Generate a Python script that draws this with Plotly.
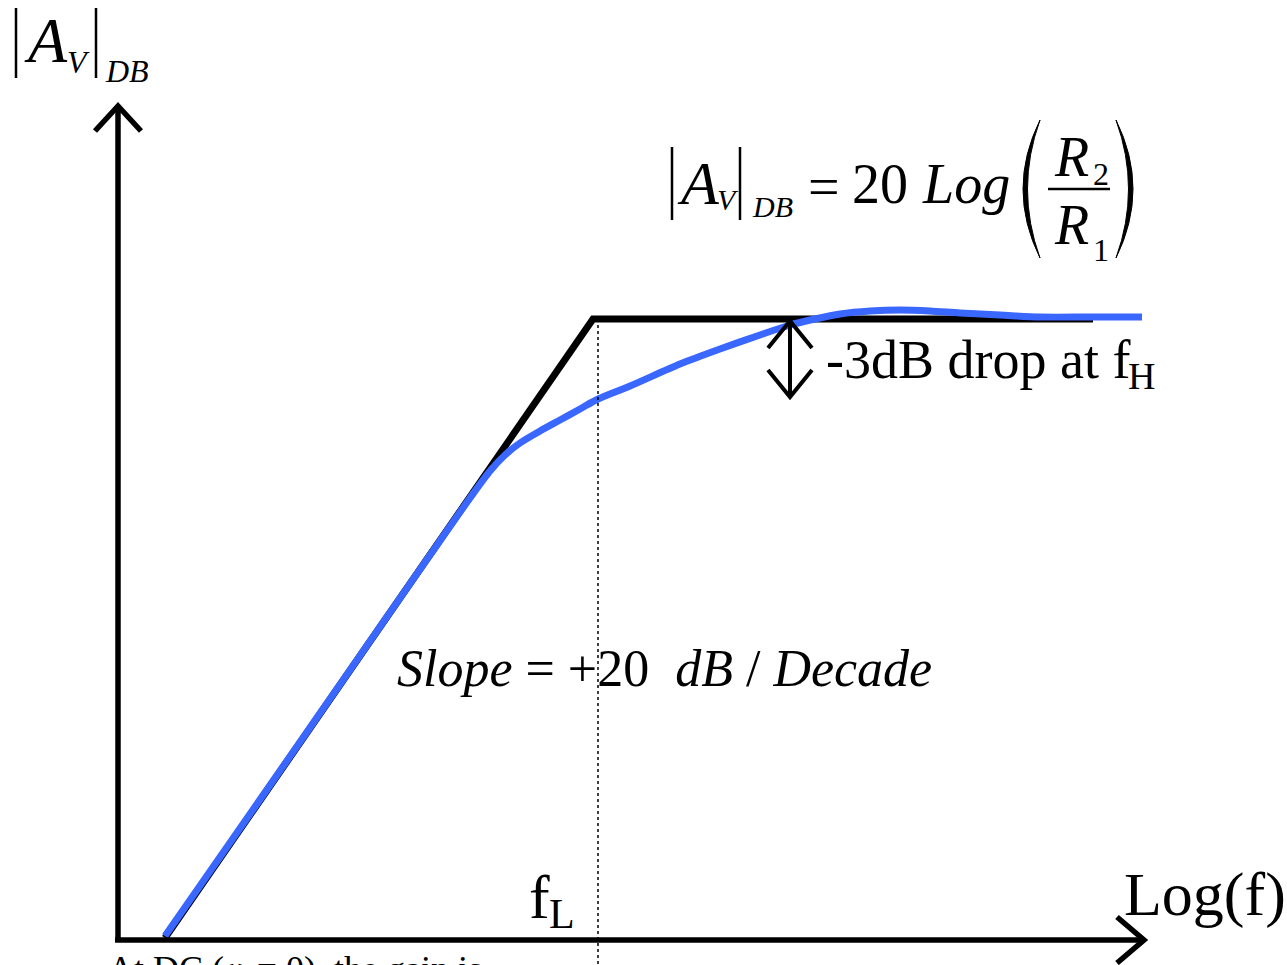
import plotly.graph_objects as go

# Canvas coordinates: x to the right, y downward (pixel-like units)
W, H = 1287, 965

# Straight-line (asymptotic) magnitude response
asym_x = [165, 593, 1093]
asym_y = [938, 319, 319]

# Actual magnitude response (smooth curve)
resp_x = [165, 250, 350, 430, 470, 490, 505, 520, 540, 560, 580, 598, 630, 680, 720,
          760, 790, 815, 840, 870, 900, 930, 960, 1000, 1040, 1090, 1142]
resp_y = [936, 814, 670, 555, 498, 471, 455, 443, 431, 420, 409, 399, 386, 364, 349,
          335, 325, 319, 314, 311, 310, 311, 313, 315, 317, 317, 317]

# Corner frequency marker
fL_x = 598
fL_top = 319

# -3 dB marker span
drop_x = 790
drop_top, drop_bot = 318, 400

FONT = "Liberation Serif"
INK = "black"
BLUE = "#3A67FF"

fig = go.Figure()

fig.add_trace(go.Scatter(x=asym_x, y=asym_y, mode="lines",
                         line=dict(color=INK, width=7), hoverinfo="skip"))
fig.add_trace(go.Scatter(x=resp_x, y=resp_y, mode="lines",
                         line=dict(color=BLUE, width=7, shape="spline", smoothing=0.8),
                         hoverinfo="skip"))

shapes = []


def seg(x0, y0, x1, y1, w=5, dash=None):
    ln = dict(color=INK, width=w)
    if dash:
        ln["dash"] = dash
    shapes.append(dict(type="line", xref="x", yref="y", x0=x0, y0=y0, x1=x1, y1=y1,
                       line=ln, layer="above"))


def path(d, w=5, fill=None):
    s = dict(type="path", xref="x", yref="y", path=d, line=dict(color=INK, width=w),
             layer="above")
    if fill:
        s["fillcolor"] = fill
    shapes.append(s)


# axes with open arrowheads
seg(118, 942, 118, 106, w=5.5)
path("M 95 131 L 118 106 L 141 131", w=5.5)
seg(115, 940, 1144, 940, w=5.5)
path("M 1117 917 L 1144 940 L 1117 963", w=5.5)

# f_L guide
seg(fL_x, fL_top, fL_x, H + 5, w=1.5, dash="dot")

# -3 dB double arrow
seg(drop_x, drop_top + 2, drop_x, drop_bot - 2, w=4)
path(f"M {drop_x-22} {drop_top+30} L {drop_x} {drop_top+3} L {drop_x+22} {drop_top+30}", w=4)
path(f"M {drop_x-22} {drop_bot-30} L {drop_x} {drop_bot-3} L {drop_x+22} {drop_bot-30}", w=4)

# absolute-value bars of the axis title
seg(16, 8, 16, 78, w=2.5)
seg(96, 8, 96, 78, w=2.5)
# absolute-value bars of the gain formula
seg(672, 147, 672, 220, w=2.5)
seg(740, 147, 740, 220, w=2.5)
# fraction bar and parentheses
seg(1048, 189, 1110, 189, w=2.5)
path("M 1040 120 Q 1006 189 1040 258 Q 1015 189 1040 120 Z", w=1, fill=INK)
path("M 1116 120 Q 1150 189 1116 258 Q 1141 189 1116 120 Z", w=1, fill=INK)

annotations = []


def txt(s, x, y, size, anchor="left", yanchor="middle"):
    annotations.append(dict(text=s, x=x, y=y, xref="x", yref="y", xanchor=anchor,
                            yanchor=yanchor, showarrow=False,
                            font=dict(family=FONT, size=size, color=INK)))


# axis title |A_V|_DB
txt("<i>A</i>", 22, 40, 64)
txt("<i>V</i>", 65, 62, 32)
txt("<i>DB</i>", 103, 71, 32)

# gain formula
txt("<i>A</i>", 675, 183, 62)
txt("<i>V</i>", 715, 199, 30)
txt("<i>DB</i>", 750, 206, 30)
txt("=", 806, 187, 56)
txt("20", 850, 184, 56)
txt("<i>Log</i>", 920, 184, 56)
txt("<i>R</i>", 1052, 157, 56)
txt("2", 1091, 174, 32)
txt("<i>R</i>", 1052, 225, 56)
txt("1", 1091, 250, 32)

# slope label
txt("<i>Slope</i> = +20\u00a0 <i>dB</i> / <i>Decade</i>", 395, 668, 52)

# -3 dB label
txt("-3dB drop at f", 824, 360, 54)
txt("H", 1126, 376, 38)

# frequency labels
txt("f", 527, 897, 62)
txt("L", 547, 914, 42)
txt("Log(f)", 1122, 894, 62)

# note under the axis
txt("At DC (\u03c9 = 0), the gain is", 106, 947, 36, yanchor="top")

fig.update_layout(
    width=W, height=H,
    margin=dict(l=0, r=0, t=0, b=0),
    paper_bgcolor="white", plot_bgcolor="white",
    showlegend=False,
    xaxis=dict(range=[0, W], visible=False, fixedrange=True),
    yaxis=dict(range=[H, 0], visible=False, fixedrange=True),
    shapes=shapes,
    annotations=annotations,
)

fig.write_html("out.html", config={"displayModeBar": False})
